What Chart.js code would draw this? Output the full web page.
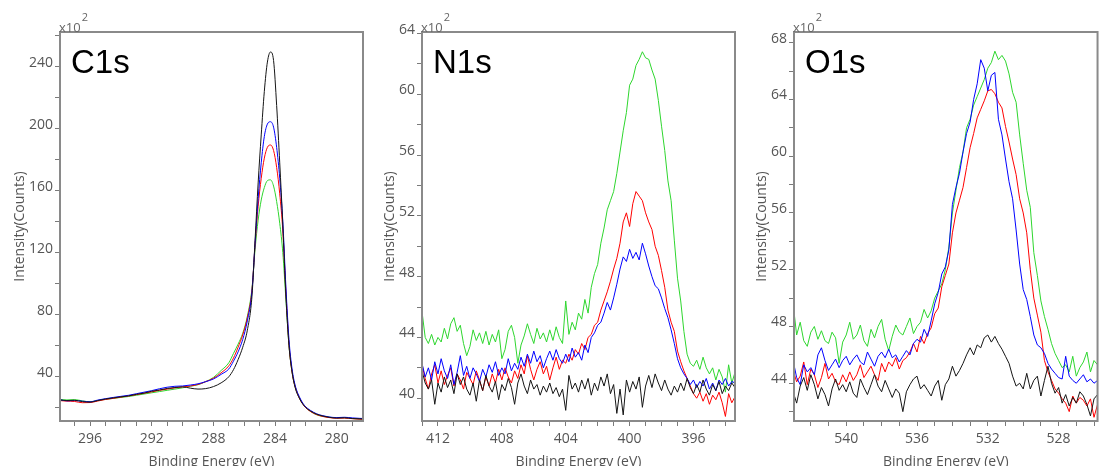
<!DOCTYPE html>
<html>
<head>
<meta charset="utf-8">
<script src="https://cdn.jsdelivr.net/npm/chart.js@4.4.1/dist/chart.umd.min.js"></script>
<style>
body { margin: 0; background: #fff; width: 1099px; height: 466px; overflow: hidden; position: relative; }
canvas { position: absolute; top: 0; }
</style>
</head>
<body>
<canvas id="c1s" width="370" height="466" style="left:0"></canvas>
<canvas id="n1s" width="370" height="466" style="left:370px"></canvas>
<canvas id="o1s" width="359" height="466" style="left:740px"></canvas>
<script>
// intensities are in units of x10^2 counts, binding energy in eV

// ---- C1s ----
const c1sEnergy = [298, 297.5, 297, 296.5, 296, 295.5, 295, 294.5, 294, 293.5,
    293, 292.5, 292, 291.5, 291, 290.5, 290, 289.5, 289, 288.5,
    288, 287.5, 287, 286.7, 286.4, 286.1, 285.8, 285.5, 285.3, 285.1,
    284.9, 284.7, 284.5, 284.3, 284.1, 283.9, 283.7, 283.5, 283.3, 283.1,
    282.9, 282.7, 282.4, 282.1, 281.7, 281.3, 280.9, 280.5, 280, 279.5,
    279, 278.5, 278.2];
const c1sBlack = [25.0, 24.6, 24.8, 23.9, 23.6, 24.6, 25.6, 26.3, 27.0, 27.6,
    28.6, 29.4, 30.6, 31.4, 32.4, 33.0, 33.4, 32.6, 32.0, 32.3,
    33.6, 36.0, 40.0, 44.5, 51.0, 59.0, 70.0, 92.0, 128, 165,
    196, 224, 243, 249.5, 244, 215, 178, 138, 92, 60,
    43, 33, 25.5, 21.0, 17.8, 15.8, 14.6, 13.8, 13.3, 13.5,
    13.0, 12.8, 12.7];
const c1sBlue = [25.2, 24.4, 24.6, 24.2, 23.8, 24.9, 25.8, 26.6, 27.3, 28.0,
    29.0, 30.0, 31.0, 32.2, 33.2, 33.8, 34.0, 34.6, 35.4, 36.8,
    38.5, 41.5, 45.0, 50.0, 56.0, 64.0, 76.0, 95, 126, 155,
    178, 195, 203, 204.5, 201, 188, 168, 140, 98, 64,
    45, 34.5, 26.5, 21.5, 18.2, 16.0, 14.8, 14.0, 13.6, 13.8,
    13.4, 13.1, 13.0];
const c1sRed = [24.6, 24.2, 24.0, 23.2, 23.3, 24.3, 25.3, 26.0, 26.8, 27.6,
    28.4, 29.3, 30.2, 31.2, 32.0, 32.8, 33.4, 34.0, 35.0, 36.8,
    39.0, 42.5, 47.0, 52.0, 59.0, 67.0, 78.0, 96, 125, 150,
    168, 181, 188, 189.5, 186, 175, 158, 134, 95, 61,
    43, 33.5, 25.8, 21.0, 17.5, 15.5, 14.3, 13.6, 13.2, 13.3,
    12.9, 12.6, 12.5];
const c1sGreen = [25.4, 25.0, 25.2, 24.4, 23.8, 24.6, 25.4, 26.0, 26.6, 27.2,
    28.0, 28.8, 29.6, 30.4, 31.2, 32.0, 32.8, 33.8, 34.8, 36.8,
    39.5, 44.0, 49.0, 55.0, 61.0, 68.0, 79.0, 97, 122, 141,
    154, 162, 166.5, 167, 163, 153, 139, 120, 90, 60,
    43, 33.5, 26.0, 21.2, 17.6, 15.4, 14.4, 13.8, 13.4, 13.5,
    13.0, 12.7, 12.6];

// ---- N1s ----
const n1sEnergy = [413.0, 412.8, 412.6, 412.4, 412.2, 412.0, 411.8, 411.6, 411.4, 411.2,
    411.0, 410.8, 410.6, 410.4, 410.2, 410.0, 409.8, 409.6, 409.4, 409.2,
    409.0, 408.8, 408.6, 408.4, 408.2, 408.0, 407.8, 407.6, 407.4, 407.2,
    407.0, 406.8, 406.6, 406.4, 406.2, 406.0, 405.8, 405.6, 405.4, 405.2,
    405.0, 404.8, 404.6, 404.4, 404.2, 404.0, 403.8, 403.6, 403.4, 403.2,
    403.0, 402.8, 402.6, 402.4, 402.2, 402.0, 401.8, 401.6, 401.4, 401.2,
    401.0, 400.8, 400.6, 400.4, 400.2, 400.0, 399.8, 399.6, 399.4, 399.2,
    399.0, 398.8, 398.6, 398.4, 398.2, 398.0, 397.8, 397.6, 397.4, 397.2,
    397.0, 396.8, 396.6, 396.4, 396.2, 396.0, 395.8, 395.6, 395.4, 395.2,
    395.0, 394.8, 394.6, 394.4, 394.2, 394.0, 393.8, 393.6, 393.4];
const n1sBlack = [41.8, 41.0, 40.6, 41.2, 39.6, 41.0, 40.4, 41.4, 40.7, 41.2,
    40.3, 41.6, 40.9, 41.4, 40.6, 40.2, 41.0, 39.8, 41.2, 40.5,
    41.5, 40.8, 40.4, 41.1, 39.9, 40.9, 40.5, 41.3, 40.7, 39.6,
    41.0, 41.6, 40.8, 40.3, 41.2, 40.6, 40.9, 40.2, 40.8, 40.4,
    41.0, 40.3, 40.7, 40.1, 40.6, 39.2, 41.5, 40.6, 41.0, 40.4,
    41.2, 40.6, 41.3, 40.2, 41.0, 40.5, 41.4, 40.8, 41.6, 40.3,
    40.9, 39.0, 40.6, 38.9, 41.2, 40.4, 41.1, 40.6, 41.4, 39.4,
    40.8, 41.5, 40.7, 41.6, 41.0, 40.5, 41.2, 40.6, 40.2, 40.8,
    40.4, 41.0, 40.5, 41.3, 40.7, 40.3, 40.9, 40.4, 41.2, 40.6,
    40.2, 40.9, 40.5, 41.1, 40.3, 40.8, 40.5, 41.0, 40.7];
const n1sBlue = [42.3, 41.4, 42.0, 41.2, 42.4, 41.6, 42.6, 41.8, 41.3, 42.2,
    40.9, 41.7, 42.8, 41.5, 42.1, 41.3, 42.0, 41.6, 41.1, 41.9,
    41.4, 42.2, 41.7, 42.4, 41.5, 42.0, 41.6, 42.6, 41.8, 42.3,
    41.9, 42.7, 42.1, 42.9, 42.3, 43.1, 42.4, 42.8, 42.0, 42.6,
    43.1, 42.5, 43.2, 42.6, 42.3, 42.9, 42.4, 43.3, 42.7, 43.0,
    42.5, 43.5, 43.0, 44.0, 44.3, 44.8, 45.0, 45.6, 46.3, 45.8,
    46.6, 47.5, 48.5, 49.3, 49.0, 49.8, 49.2, 49.6, 49.1, 50.2,
    49.5, 48.7, 48.0, 47.4, 47.2, 46.6, 45.9, 45.3, 44.5, 43.6,
    42.6, 42.0, 41.6, 41.3, 40.9, 41.2, 40.7, 41.1, 40.8, 41.3,
    40.6, 41.0, 40.5, 41.2, 40.9, 41.3, 40.8, 41.1, 41.0];
const n1sRed = [42.2, 41.3, 40.6, 41.6, 42.2, 41.0, 41.8, 40.9, 41.5, 42.0,
    40.8, 41.6, 41.2, 40.6, 41.7, 41.3, 40.9, 41.8, 41.2, 40.5,
    41.4, 40.8, 41.6, 41.0, 41.9, 41.2, 42.0, 41.4, 41.0, 41.8,
    41.3, 42.2, 41.6, 42.8, 41.9, 41.2, 41.9, 42.4, 41.6, 42.1,
    41.2, 42.0, 42.7, 41.9, 42.5, 42.3, 42.9, 42.5, 43.2, 42.9,
    43.6, 43.2, 44.0, 44.2, 44.8, 45.0, 45.8, 46.4, 47.0, 47.7,
    48.5, 49.2, 50.2, 51.6, 52.2, 51.3, 52.8, 53.6, 53.3, 53.0,
    52.2, 51.6, 51.1, 50.0, 49.4, 48.4, 47.3, 45.8, 45.0, 44.4,
    43.1, 42.4, 41.8, 41.3, 40.8, 40.3, 40.0, 40.4, 39.8, 40.3,
    39.6, 40.2, 39.9, 40.4, 39.7, 38.8, 40.3, 39.7, 40.1];
const n1sGreen = [45.7, 44.0, 43.6, 44.2, 43.5, 44.0, 43.7, 44.6, 43.9, 44.9,
    45.3, 44.4, 44.8, 43.6, 42.8, 43.4, 44.5, 43.8, 44.3, 43.6,
    44.4, 43.5, 44.2, 43.7, 44.5, 42.6, 43.2, 44.4, 44.8, 44.0,
    42.3, 43.5, 44.1, 44.9, 44.2, 43.6, 44.6, 43.9, 44.3, 43.7,
    44.5, 43.8, 44.7, 44.0, 43.6, 46.4, 44.2, 45.0, 44.5, 45.6,
    45.2, 46.5, 45.6, 47.3, 48.2, 48.8, 50.2, 51.2, 52.4, 53.0,
    53.6, 54.8, 56.2, 57.6, 58.8, 60.6, 61.0, 61.9, 62.3, 62.8,
    62.4, 62.3, 61.6, 61.0, 59.6, 57.9, 56.3, 54.3, 53.0, 50.4,
    47.9, 46.4, 44.4, 42.9, 42.3, 42.1, 42.5, 41.9, 42.7, 42.0,
    41.6, 42.0, 41.2, 41.9, 41.4, 40.4, 42.2, 41.0, 41.7];

// ---- O1s ----
const o1sEnergy = [543.0, 542.8, 542.6, 542.4, 542.2, 542.0, 541.8, 541.6, 541.4, 541.2,
    541.0, 540.8, 540.6, 540.4, 540.2, 540.0, 539.8, 539.6, 539.4, 539.2,
    539.0, 538.8, 538.6, 538.4, 538.2, 538.0, 537.8, 537.6, 537.4, 537.2,
    537.0, 536.8, 536.6, 536.4, 536.2, 536.0, 535.8, 535.6, 535.4, 535.2,
    535.0, 534.8, 534.6, 534.4, 534.2, 534.0, 533.8, 533.6, 533.4, 533.2,
    533.0, 532.8, 532.6, 532.4, 532.2, 532.0, 531.8, 531.6, 531.4, 531.2,
    531.0, 530.8, 530.6, 530.4, 530.2, 530.0, 529.8, 529.6, 529.4, 529.2,
    529.0, 528.8, 528.6, 528.4, 528.2, 528.0, 527.8, 527.6, 527.4, 527.2,
    527.0, 526.8, 526.6, 526.4, 526.2, 526.0, 525.8];
const o1sBlack = [43.4, 42.6, 43.8, 44.4, 43.5, 44.6, 43.9, 42.9, 43.7, 43.2,
    42.4, 43.6, 44.3, 43.5, 43.9, 43.4, 44.1, 43.3, 43.0, 44.3,
    43.7, 43.2, 43.9, 44.6, 43.8, 43.4, 44.2, 43.6, 43.0, 43.6,
    43.3, 42.0, 43.4, 43.9, 44.3, 44.5, 43.6, 43.9, 43.5, 43.1,
    43.8, 44.2, 42.8, 43.9, 44.3, 45.2, 44.5, 44.9, 45.4, 46.0,
    46.5, 46.0, 46.7, 46.5, 47.2, 47.4, 46.9, 47.3, 46.8, 46.4,
    45.9, 45.4, 44.5, 43.8, 44.0, 43.6, 44.7, 43.6, 44.2, 44.5,
    43.1, 44.2, 45.2, 44.0, 43.3, 43.7, 42.6, 43.2, 42.4, 43.0,
    42.6, 43.4, 43.1, 42.5, 41.7, 42.9, 43.2];
const o1sBlue = [45.6, 44.4, 43.9, 45.3, 44.8, 45.1, 44.6, 46.0, 46.5, 45.6,
    44.9, 45.3, 45.7, 45.1, 45.6, 45.9, 45.3, 45.7, 46.0, 45.5,
    45.3, 46.2, 45.7, 45.2, 45.9, 46.2, 45.8, 46.4, 45.8, 46.0,
    45.5, 45.9, 46.3, 46.0, 46.8, 47.1, 46.9, 47.8, 47.3, 48.4,
    49.6, 50.4, 51.7, 52.2, 53.4, 56.6, 57.8, 58.8, 60.3, 61.6,
    62.4, 64.0, 65.1, 66.8, 66.2, 64.6, 65.7, 65.9, 62.6, 61.5,
    59.8, 58.2, 57.0, 54.8, 52.4, 50.6, 49.9, 48.7, 47.4, 46.7,
    46.5, 46.1, 45.4, 45.0, 44.7, 44.4, 44.3, 45.9, 44.5, 44.2,
    44.0, 44.3, 44.6, 44.1, 44.3, 44.0, 44.2];
const o1sRed = [44.9, 44.1, 44.5, 45.5, 43.9, 45.0, 44.6, 43.7, 44.4, 45.4,
    44.3, 44.7, 44.1, 43.9, 44.6, 44.1, 44.8, 44.2, 44.6, 45.3,
    44.4, 44.8, 45.2, 44.6, 44.2, 45.4, 44.8, 45.5, 45.2, 45.8,
    45.0, 45.6, 45.8, 46.2, 46.8, 46.2, 47.3, 46.8, 47.5, 47.9,
    48.9, 49.3, 50.8, 51.6, 52.4, 54.6, 56.0, 56.9, 57.8, 59.2,
    60.6, 61.6, 62.7, 63.3, 63.9, 64.6, 64.7, 64.4, 63.8, 63.4,
    62.1, 61.0, 59.8, 58.7, 57.0, 56.0, 54.6, 52.0, 50.0, 48.8,
    47.6, 45.6, 44.8, 44.2, 43.6, 43.3, 42.9, 42.6, 42.0, 43.1,
    42.6, 43.0, 42.8, 42.4, 42.9, 41.6, 42.5];
const o1sGreen = [49.6, 47.4, 48.3, 47.0, 46.6, 47.6, 48.0, 47.1, 47.7, 47.0,
    46.8, 47.6, 47.2, 45.4, 46.9, 47.4, 48.3, 47.1, 47.4, 48.1,
    47.0, 46.6, 47.8, 47.2, 48.0, 48.5, 47.1, 46.3, 47.3, 48.1,
    47.6, 47.4, 48.0, 48.6, 47.5, 48.0, 48.3, 49.2, 48.6, 49.1,
    50.0, 50.5, 51.0, 52.0, 53.6, 56.0, 57.6, 59.2, 60.3, 62.0,
    62.6, 63.6, 64.2, 64.8, 65.4, 66.2, 66.6, 67.4, 66.8, 67.1,
    66.7, 65.8, 64.5, 63.8, 61.5, 59.5, 57.6, 56.4, 53.2, 51.6,
    49.8, 48.7, 47.8, 46.8, 46.1, 45.6, 45.1, 45.3, 44.8, 45.9,
    44.5, 45.1, 45.5, 46.2, 44.8, 45.6, 45.3];

Chart.defaults.font.family = '"Open Sans", sans-serif';
Chart.defaults.font.size = 14;
Chart.defaults.color = "#555";

const xpsFrame = {
    id: "xpsFrame",
    afterDraw(chart, args, opts) {
        const ctx = chart.ctx;
        const a = chart.chartArea;
        ctx.save();
        ctx.strokeStyle = "#8a8a8a";
        ctx.lineWidth = 2;
        ctx.strokeRect(a.left, a.top, a.right - a.left, a.bottom - a.top);
        ctx.fillStyle = "#000";
        ctx.font = '33px "Liberation Sans", Arial, sans-serif';
        ctx.fillText(opts.label, a.left + 11, 73);
        ctx.fillStyle = "#666";
        ctx.font = '13px "Open Sans", sans-serif';
        ctx.fillText("x10", a.left - 1, 31.5);
        const w = ctx.measureText("x10").width;
        ctx.font = '11px "Open Sans", sans-serif';
        ctx.fillText("2", a.left + w, 20.5);
        ctx.restore();
    }
};

function points(xs, ys) {
    return xs.map((x, i) => ({ x: x, y: ys[i] }));
}

function makePanel(id, p) {
    const line = (data, color) => ({
        data: data,
        borderColor: color,
        borderWidth: 1,
        pointRadius: 0,
        fill: false,
        tension: 0,
        cubicInterpolationMode: p.smooth ? "monotone" : "default"
    });
    return new Chart(document.getElementById(id), {
        type: "line",
        data: {
            datasets: [
                line(points(p.energy, p.black), "#151515"),
                line(points(p.energy, p.blue), "#0000ff"),
                line(points(p.energy, p.red), "#ff0000"),
                line(points(p.energy, p.green), "#2ed62e")
            ]
        },
        options: {
            responsive: false,
            animation: false,
            devicePixelRatio: 1,
            layout: { padding: { top: 32, right: p.padRight, left: 0, bottom: 0 } },
            plugins: {
                legend: { display: false },
                tooltip: { enabled: false },
                xpsFrame: { label: p.label }
            },
            scales: {
                x: {
                    type: "linear",
                    reverse: true,
                    min: p.xMin,
                    max: p.xMax,
                    afterFit: (s) => { s.height = 45; },
                    border: { display: false },
                    grid: { drawOnChartArea: false, drawTicks: true, tickLength: 5, tickColor: "#7a7a7a" },
                    ticks: {
                        stepSize: 1,
                        includeBounds: false,
                        autoSkip: false,
                        maxRotation: 0,
                        padding: 5,
                        color: "#555",
                        callback: (v) => (v % 4 === 0 ? v : "")
                    },
                    title: {
                        display: true,
                        text: "Binding Energy (eV)",
                        color: "#555",
                        padding: { top: 0, bottom: -4 }
                    }
                },
                y: {
                    min: p.yMin,
                    max: p.yMax,
                    afterFit: (s) => { s.width = p.yWidth; },
                    border: { display: false },
                    grid: { drawOnChartArea: false, drawTicks: true, tickLength: 5, tickColor: "#7a7a7a" },
                    ticks: {
                        stepSize: p.yStep,
                        includeBounds: false,
                        autoSkip: false,
                        padding: 2,
                        labelOffset: -4,
                        color: "#555",
                        callback: (v) => (v % (p.yStep * 2) === 0 ? v : "")
                    },
                    title: {
                        display: true,
                        text: "Intensity(Counts)",
                        color: "#555",
                        padding: { top: p.titlePad, bottom: 0 }
                    }
                }
            }
        },
        plugins: [xpsFrame]
    });
}

makePanel("c1s", {
    label: "C1s", smooth: true,
    energy: c1sEnergy, black: c1sBlack, blue: c1sBlue, red: c1sRed, green: c1sGreen,
    xMin: 278.3, xMax: 297.95, yMin: 11.4, yMax: 262.4, yStep: 20,
    yWidth: 60, padRight: 7, titlePad: 12
});

makePanel("n1s", {
    label: "N1s", smooth: false,
    energy: n1sEnergy, black: n1sBlack, blue: n1sBlue, red: n1sRed, green: n1sGreen,
    xMin: 393.4, xMax: 413.0, yMin: 38.5, yMax: 64.1, yStep: 2,
    yWidth: 52, padRight: 5, titlePad: 12
});

makePanel("o1s", {
    label: "O1s", smooth: false,
    energy: o1sEnergy, black: o1sBlack, blue: o1sBlue, red: o1sRed, green: o1sGreen,
    xMin: 525.8, xMax: 542.95, yMin: 41.34, yMax: 68.75, yStep: 2,
    yWidth: 54, padRight: 0, titlePad: 14
});
</script>
</body>
</html>
